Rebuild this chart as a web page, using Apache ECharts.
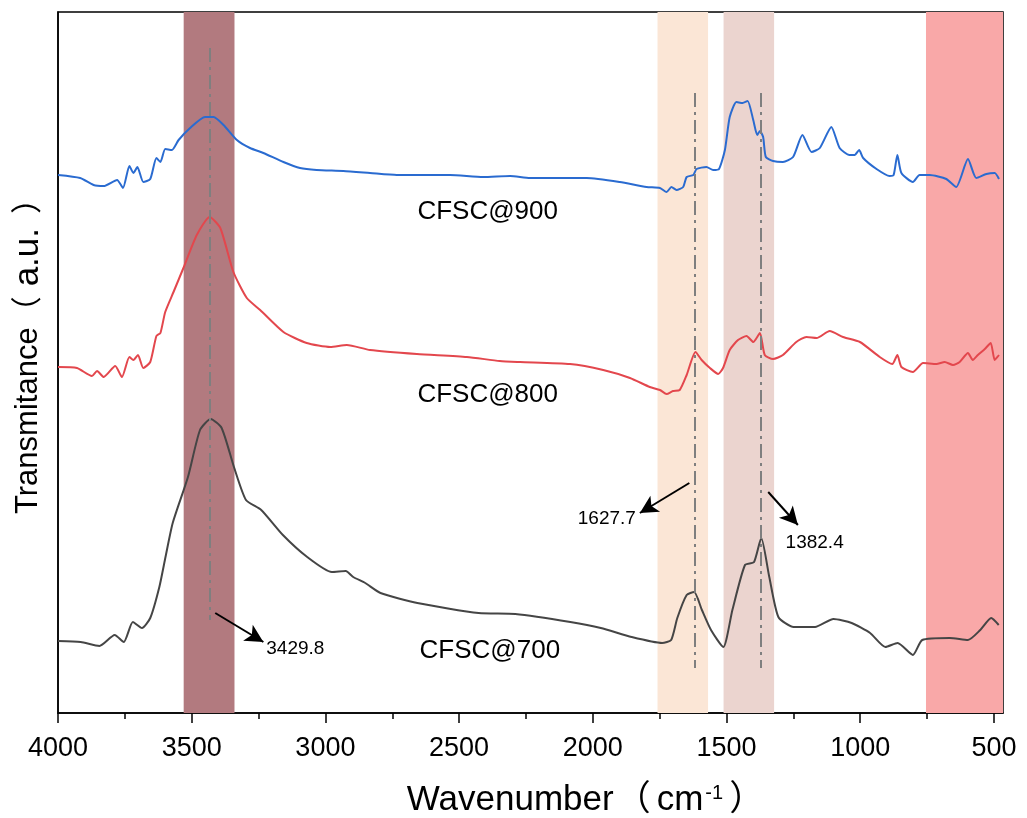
<!DOCTYPE html>
<html><head><meta charset="utf-8">
<script src="https://cdn.jsdelivr.net/npm/echarts@6/dist/echarts.min.js"></script>
<style>html,body{margin:0;padding:0;background:#fff}#c{width:1027px;height:818px}</style>
</head><body><div id="c"></div>
<script>
// Wavenumber (cm-1) and transmittance (a.u., offset per curve)
const wn900=[4000,3917,3867,3829,3779,3757,3733,3718,3703,3681,3655,3632,3617,3599,3574,3549,3506,3450,3418,3381,3331,3282,3232,3157,3095,3033,2933,2833,2733,2534,2410,2309,2235,2023,1899,1799,1749,1724,1706,1687,1662,1649,1624,1612,1575,1550,1528,1506,1488,1463,1440,1421,1400,1385,1375,1363,1353,1326,1289,1251,1216,1182,1151,1108,1077,1040,1021,1004,989,939,890,875,861,846,803,778,740,678,641,597,566,528,497,481];
const t900=[538,535,528,527,533,525,547,540,546,531,534,555,551,564,563,573,585,596,596,588,573,565,560,551,545,543,542,540,538,538,536,537,535,535,531,526,525,521,526,523,526,536,538,544,546,543,544,563,596,611,610,612,593,578,582,576,556,552,551,556,578,561,565,586,565,558,558,563,555,544,537,538,558,540,531,538,538,534,526,554,535,539,540,534];
const wn800=[4000,3929,3873,3854,3829,3786,3761,3733,3718,3701,3681,3655,3632,3617,3599,3568,3531,3481,3433,3393,3344,3294,3244,3157,3070,2982,2920,2833,2658,2471,2348,2272,2085,1961,1861,1787,1749,1724,1700,1675,1649,1616,1593,1562,1531,1513,1488,1457,1425,1400,1375,1357,1326,1289,1239,1201,1163,1114,1064,1001,927,880,861,846,803,765,715,684,653,628,597,579,560,534,512,497,481];
const t800=[346,345,337,342,336,347,336,356,353,358,345,351,377,380,401,421,445,478,496,485,441,415,403,381,370,366,368,363,359,356,352,351,349,343,335,326,323,319,322,323,338,361,353,345,339,345,363,373,377,371,380,358,354,358,371,376,375,382,376,371,356,349,358,346,341,350,349,351,348,351,360,353,358,364,370,353,358];
const wn700=[4000,3915,3845,3788,3754,3720,3686,3655,3621,3598,3571,3514,3469,3429,3388,3342,3297,3240,3159,3068,2976,2924,2896,2851,2794,2656,2427,2290,2084,1970,1855,1741,1707,1684,1649,1621,1592,1558,1512,1478,1431,1397,1370,1340,1306,1249,1169,1100,1032,963,906,860,803,768,665,597,551,510,482];
const t700=[72,71,67,78,71,91,85,95,126,156,190,236,283,294,285,246,213,203,178,156,141,142,136,130,120,110,100,99,91,85,76,70,73,95,118,121,103,83,66,103,148,151,175,136,96,86,86,94,90,80,66,70,58,73,75,73,83,95,88];
const seriesNames=['CFSC@900','CFSC@800','CFSC@700'];
const tickValues=[4000,3500,3000,2500,2000,1500,1000,500];
const minorTickValues=[3750,3250,2750,2250,1750,1250,750];
const bandRanges=[[3530,3340],[1758,1569],[1511,1322],[754,466]];
const dashPositions=[3432,1617,1373];
const peakLabels=['3429.8','1627.7','1382.4'];

const zip=(a,b)=>a.map((v,i)=>[v,b[i]]);
const X_MIN=466, X_MAX=4000, Y_MAX=701;
const FONT="'Liberation Sans', Arial, 'Noto Sans CJK SC', sans-serif";
const bandColors=['#b27a7f','#fbe6d6','#ebd4cf','#f9a8a8'];

const chart=echarts.init(document.getElementById('c'),null,{renderer:'canvas'});
const lineStyleCommon={width:2};
const txt=(s,size,pos)=>({show:true,position:pos,distance:0,formatter:s,fontSize:size,color:'#000',fontFamily:FONT});
const option={
  animation:false,
  backgroundColor:'#fff',
  grid:{left:58,right:24,top:12,bottom:105,containLabel:false,outerBoundsMode:'none',show:true,borderColor:'#000',borderWidth:1.5,backgroundColor:'transparent'},
  xAxis:[{
    type:'value',inverse:true,min:X_MIN,max:X_MAX,position:'bottom',
    name:'Wavenumber{p|（}{c|cm}{sup|-1}{q|）}',nameLocation:'middle',nameGap:70,
    nameTextStyle:{fontSize:35,color:'#000',fontFamily:FONT,padding:[0,0,0,110],
      rich:{
        p:{fontSize:35,color:'#000',fontFamily:FONT,padding:[0,6,0,2]},
        c:{fontSize:35,color:'#000',fontFamily:FONT},
        sup:{fontSize:20,verticalAlign:'top',color:'#000',fontFamily:FONT,padding:[0,6,0,2]},
        q:{fontSize:35,color:'#000',fontFamily:FONT}
      }},
    axisLine:{show:true,lineStyle:{color:'#000',width:1.5}},
    axisTick:{show:true,inside:false,length:10,lineStyle:{color:'#000',width:1.5},customValues:tickValues},
    axisLabel:{show:true,fontSize:27,color:'#000',fontFamily:FONT,margin:22,customValues:tickValues,formatter:v=>String(v)},
    splitLine:{show:false}
  },{
    type:'value',inverse:true,min:X_MIN,max:X_MAX,position:'bottom',offset:0,
    axisLine:{show:false},
    axisTick:{show:true,inside:false,length:6,lineStyle:{color:'#000',width:1.5},customValues:minorTickValues},
    axisLabel:{show:false},splitLine:{show:false}
  }],
  yAxis:{
    type:'value',min:0,max:Y_MAX,
    name:'Transmitance{p|（}{t|a.u.}{q|）}',nameLocation:'middle',nameGap:12,nameRotate:90,
    nameTextStyle:{fontSize:31,color:'#000',fontFamily:FONT,padding:[0,0,0,28],
      rich:{
        p:{fontSize:31,color:'#000',fontFamily:FONT,padding:[0,10,0,0]},
        t:{fontSize:35,color:'#000',fontFamily:FONT},
        q:{fontSize:31,color:'#000',fontFamily:FONT,padding:[0,0,0,14]}
      }},
    axisLine:{show:true,lineStyle:{color:'#000',width:1.5}},
    axisTick:{show:false},axisLabel:{show:false},splitLine:{show:false}
  },
  series:[
    {
      type:'line',data:[],z:1,silent:true,
      markArea:{silent:true,z:1,
        data:bandRanges.map((b,i)=>[{xAxis:b[0],itemStyle:{color:bandColors[i],opacity:1}},{xAxis:b[1]}])}
    },
    {name:seriesNames[0],type:'line',data:zip(wn900,t900),showSymbol:false,smooth:0.2,z:3,
      lineStyle:Object.assign({color:'#2a6bd0'},lineStyleCommon),itemStyle:{color:'#2a6bd0'}},
    {name:seriesNames[1],type:'line',data:zip(wn800,t800),showSymbol:false,smooth:0.2,z:3,
      lineStyle:Object.assign({color:'#e3474d'},lineStyleCommon),itemStyle:{color:'#e3474d'}},
    {name:seriesNames[2],type:'line',data:zip(wn700,t700),showSymbol:false,smooth:0.2,z:3,
      lineStyle:Object.assign({color:'#454545'},lineStyleCommon),itemStyle:{color:'#454545'}},
    {
      type:'line',data:[],z:4,silent:true,
      markLine:{silent:true,z:4,symbol:['none','none'],label:{show:false},
        lineStyle:{color:'#7f7f7f',width:2,type:[14,5,3,5]},
        data:[
          [{coord:[dashPositions[0],665]},{coord:[dashPositions[0],93]}],
          [{coord:[dashPositions[1],620]},{coord:[dashPositions[1],45]}],
          [{coord:[dashPositions[2],620]},{coord:[dashPositions[2],45]}]
        ]},
      markPoint:{silent:true,z:6,symbol:'circle',symbolSize:0,
        data:[
          {coord:[2393,501],label:txt(seriesNames[0],26,'inside')},
          {coord:[2393,318],label:txt(seriesNames[1],26,'inside')},
          {coord:[2385,62],label:txt(seriesNames[2],26,'inside')},
          {coord:[3221,64],label:txt(peakLabels[0],19,'right')},
          {coord:[1839,194],label:txt(peakLabels[1],19,'left')},
          {coord:[1279,170],label:txt(peakLabels[2],19,'right')}
        ]}
    },
    {
      type:'line',data:[],z:5,silent:true,
      markLine:{silent:true,z:5,symbol:['none','arrow'],symbolSize:[14,18],label:{show:false},
        lineStyle:{color:'#000',width:2,type:'solid'},
        data:[
          [{coord:[3412,100]},{coord:[3232,71]}],
          [{coord:[1639,230]},{coord:[1824,200]}],
          [{coord:[1344,221]},{coord:[1233,188]}]
        ]}
    }
  ]
};
chart.setOption(option);
</script>
</body></html>
